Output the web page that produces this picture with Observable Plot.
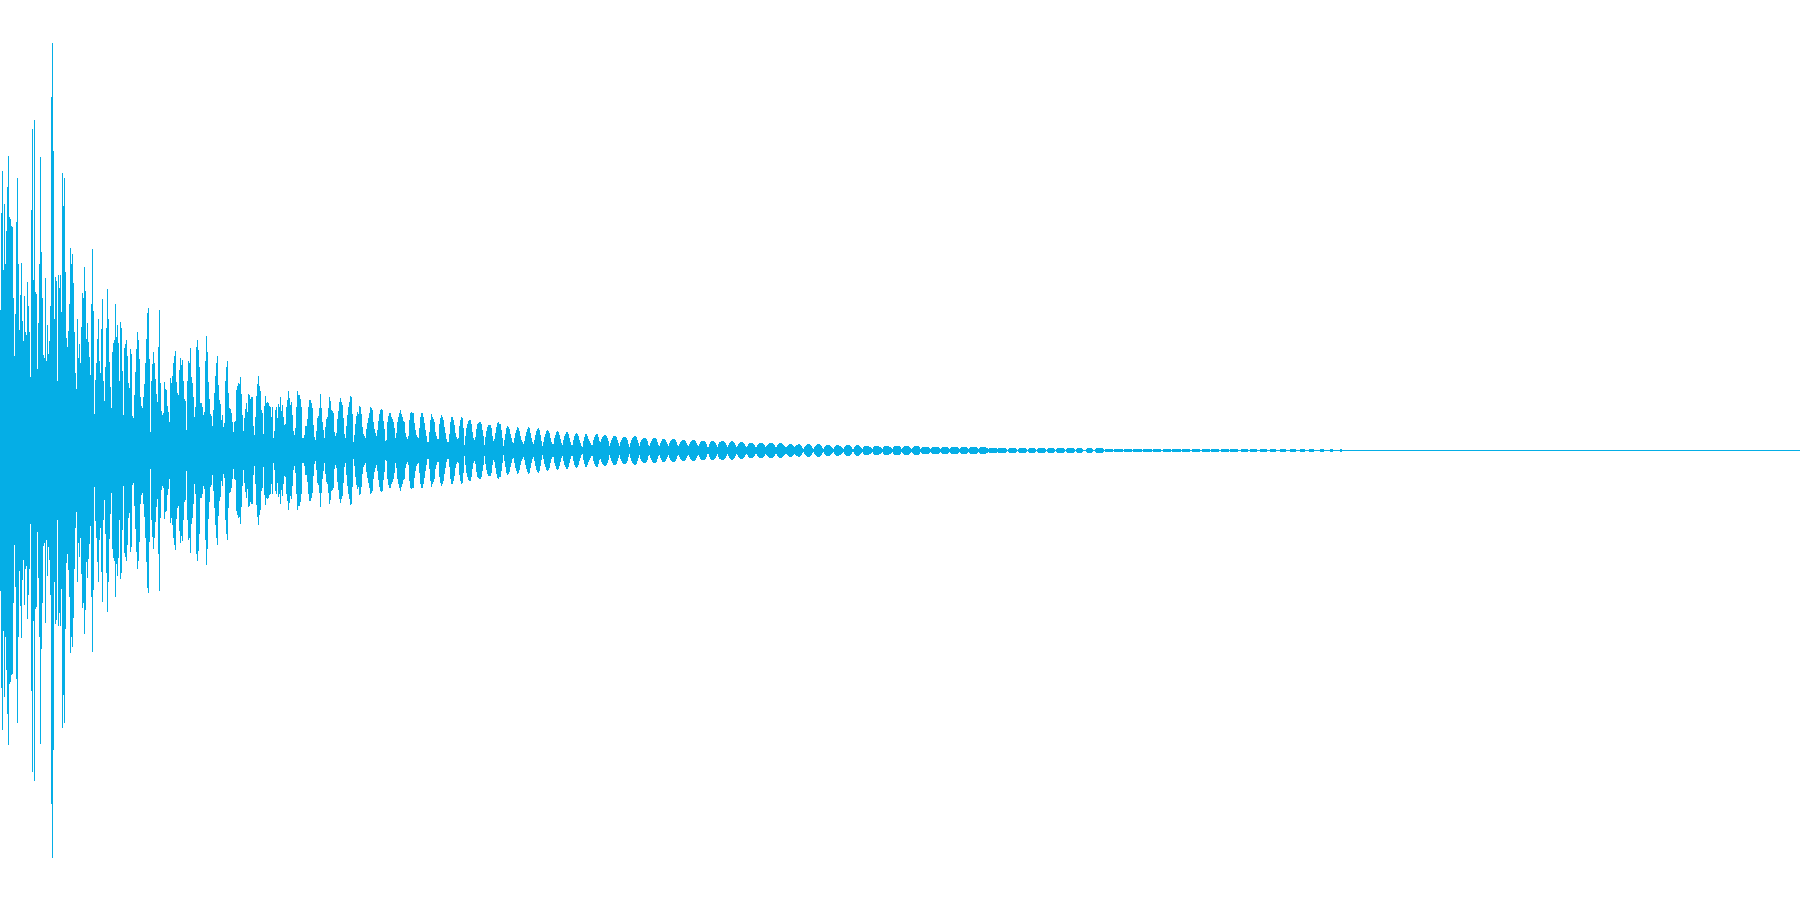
<!DOCTYPE html>
<html><head><meta charset="utf-8">
<style>html,body{margin:0;padding:0;background:#fff}svg{display:block}</style>
<script src="https://cdn.jsdelivr.net/npm/d3@7"></script>
<script src="https://cdn.jsdelivr.net/npm/@observablehq/plot@0.6"></script>
</head><body><div id="chart"></div>
<script>
const seg0 = [
140,237,279,180,246,186,219,263,294,233,
231,224,223,152,94,136,228,272,186,120,
155,187,129,109,154,118,115,168,144,118,
73,240,321,170,330,158,156,81,127,186,
293,198,152,95,92,172,89,125,96,109,
144,353,407,299,131,173,169,69,175,162,
175,138,277,244,272,178,112,103,119,146,
202,186,196,167,118,77,61,131,92,106,
87,123,157,152,183,159,111,127,108,93,
75,146,201,139,36,70,87,111,131,89,
77,121,151,69,49,83,122,161,131,88,
63,42,98,107,110,146,113,125,107,69,
128,122,79,35,102,106,110,94,67,62,
101,96,34,32,55,78,101,118,110,91,
53,44,42,53,66,87,111,137,142,91,
18,69,86,98,87,71,56,48,103,140,
67,39,35,37,68,61,60,44,38,28,
72,67,74,87,94,99,68,57,55,80,
92,85,90,69,51,49,20,69,89,87,
102,73,67,53,33,43,103,110,100,83];
const seg200 = [
47,47,43,35,38,89,114,98,68,51,
36,34,24,40,57,74,87,94,65,50,
46,30,35,23,27,69,83,89,57,42,
41,37,28,18,28,29,60,64,67,66,
73,56,35,19,32,41,47,38,56,55,
51,53,53,24,15,33,54,66,74,64,
59,40,37,16,44,54,47,48,47,44,
43,33,43,12,19,40,43,32,46,43,
53,39,45,33,25,26,43,50,59,52,
45,48,35,19,15,22,43,59,55,55,
51,43,12,12,15,24,24,31,43,50,
50,47,42,25,13,10,19,32,34,42,
56,42,28,20,12,23,31,33,42,53,
49,40,39,37,18,14,17,31,39,48,
52,48,45,32,16,12,24,35,43,48,
54,53,36,8,15,26,34,38,36,44,
43,36,23,16,14,12,21,27,32,37,
43,42,40,28,21,17,14,20,29,36,
40,41,40,29,21,9,10,28,34,37,
37,33,31,28,22,12,17,28,33,37];
const seg400 = [
40,36,33,29,28,17,13,11,14,30,
37,38,37,37,27,20,15,13,12,22,
33,37,37,33,27,20,14,8,8,18,
30,36,33,31,28,18,14,11,11,26,
32,35,33,30,23,17,11,8,8,16,
28,33,33,30,25,17,13,11,12,24,
30,33,32,22,5,14,22,26,29,30,
30,26,18,12,10,13,21,26,27,28,
28,26,20,14,5,13,19,23,25,25,
25,22,14,9,11,17,23,27,28,26,
26,20,12,4,10,16,22,24,23,21,
16,12,8,7,12,17,20,23,22,19,
14,10,8,6,9,14,18,21,23,22,
17,12,8,6,10,15,19,21,22,20,
15,9,4,8,13,16,19,20,19,17,
12,8,6,6,12,15,18,19,18,15,
11,7,5,10,14,16,18,18,16,12,
8,5,5,10,14,16,17,16,14,10,
7,4,3,9,13,16,16,14,11,9,
7,5,5,10,13,15,16,16,13,9];
const seg600 = [
8,11,13,14,15,15,14,12,9,4,
7,10,12,14,14,14,13,10,7,4,
8,10,12,13,13,13,12,10,6,3,
7,10,12,13,14,14,13,10,7,4,
8,10,11,12,12,12,11,9,5,4,
7,9,11,12,12,12,11,8,5,4,
7,9,11,11,11,10,8,6,4,7,
9,10,11,11,11,10,8,5,4,6,
8,9,10,10,10,9,7,5,4,6,
8,9,10,10,10,9,7,5,4,6,
8,9,9,9,9,8,6,3,3,6,
8,9,9,9,8,7,5,3,6,8,
8,9,9,9,8,7,5,3,5,7,
8,9,9,8,7,5,3,4,6,7,
8,8,8,7,6,4,3,4,6,7,
7,7,7,6,5,3,3,5,6,7,
7,7,7,6,5,3,4,5,6,7,
7,7,7,6,5,3,3,5,6,7,
7,7,6,5,4,3,3,4,5,6,
6,6,5,4,3,4,5,5,6,6];
const seg800 = [
5,4,2,1,3,4,5,6,6,6,
5,4,2,1,3,4,5,6,6,6,
5,4,2,1,3,4,5,5,5,5,
4,3,2,1,3,4,5,5,5,4,
4,3,2,1,3,4,5,5,5,5,
4,3,1,1,3,4,5,5,5,4,
3,2,1,3,4,4,4,4,4,3,
3,2,1,3,4,4,4,4,4,3,
3,2,1,3,4,4,4,4,4,3,
3,2,1,3,4,4,4,4,4,4,
3,1,2,3,4,4,4,4,4,3,
2,1,2,3,4,4,4,4,4,3,
1,2,3,3,3,3,3,3,3,2,
1,2,3,3,3,3,3,3,3,2,
1,2,3,3,3,3,3,3,2,1,
2,3,3,3,3,3,3,3,2,1,
2,3,3,3,3,3,3,2,1,2,
3,3,3,3,3,3,3,2,1,2,
3,3,3,3,3,3,2,2,1,2,
2,2,2,2,2,2,2,1,2,2];
const seg1000 = [
2,2,2,2,2,2,1,0,1,2,
2,2,2,2,2,2,1,0,1,2,
2,2,2,2,2,2,1,0,1,2,
2,2,2,2,2,1,0,1,2,2,
2,2,2,2,2,1,0,1,2,2,
2,2,2,2,1,0,1,2,2,2,
2,2,2,2,1,0,1,2,2,2,
2,2,2,2,1,0,1,2,2,2,
2,2,1,0,0,0,1,2,2,2,
2,2,1,0,0,1,2,2,2,2,
2,2,2,1,0,1,1,1,1,1,
1,1,1,0,1,1,1,1,1,1,
1,1,1,0,1,1,1,1,1,1,
1,1,0,1,1,1,1,1,1,1,
1,1,0,1,1,1,1,1,1,1,
1,1,0,1,1,1,1,1,1,1,
1,0,0,1,1,1,1,1,1,1,
1,0,1,1,1,1,1,1,1,1,
1,0,1,1,1,1,1,1,1,1,
0,0,1,1,1,1,1,1,1,1];
const seg1200 = [
0,0,1,1,1,1,1,1,1,1,
0,1,1,1,1,1,1,1,1,0,
0,1,1,1,1,1,1,1,1,0,
1,1,1,1,1,1,1,1,0,0,
0,1,1,1,1,1,1,1,0,0,
1,1,1,1,1,1,1,0,0,0,
1,1,1,1,1,1,1,0,0,0,
1,1,1,1,1,1,0,0,0,0,
1,1,1,1,1,1,0,0,0,0,
1,1,1,1,1,1,0,0,0,0,
1,1,1,1,1,0,0,0,0,1,
1,1,1,1,0,0,0,0,0,0,
1,1,1,1,0,0,0,0,0,0,
1,1,1,0,0,0,0,0,0,0,
1,1];
const segmentStarts = [0,200,400,600,800,1000,1200];
const segments = [seg0,seg200,seg400,seg600,seg800,seg1000,seg1200];
const waveColor = "#05aee6";
const samples = segments.flatMap((s,k)=>s.map((a,i)=>({col:segmentStarts[k]+i,a})));
const chart = Plot.plot({
  width:1800,height:900,margin:0,
  style:{background:"#fff"},
  x:{domain:[0,1800],range:[0,1800],axis:null},
  y:{domain:[-450,450],range:[900,0],axis:null},
  marks:[
    Plot.ruleY([0],{stroke:waveColor,strokeWidth:1}),
    Plot.ruleX(samples,{x:"col",y1:d=>d.a,y2:d=>-d.a-1,stroke:waveColor,strokeWidth:1,strokeOpacity:1})
  ]
});
document.getElementById("chart").append(chart);
</script></body></html>
